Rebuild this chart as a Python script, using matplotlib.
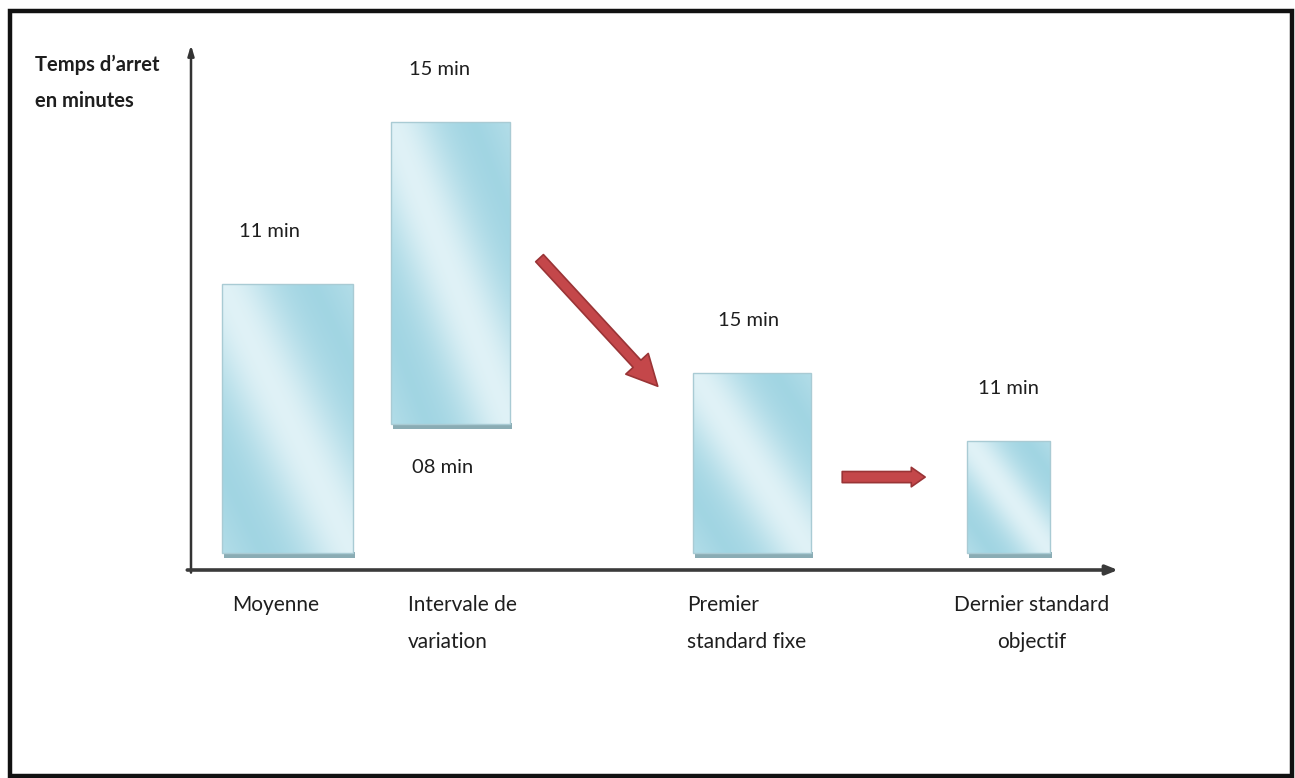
import numpy as np
import matplotlib
matplotlib.use("Agg")
import matplotlib.pyplot as plt
from matplotlib.patches import Rectangle
from matplotlib.colors import to_rgb

plt.rcParams['font.family'] = ['Lato', 'DejaVu Sans']

# --- data -------------------------------------------------------------
categories = ["Moyenne", "Intervale de\nvariation", "Premier\nstandard fixe",
              "Dernier standard\nobjectif"]
bar_low = [3.2, 27.8, 3.2, 3.2]          # bar bottoms (chart units)
bar_high = [54.5, 85.3, 37.5, 24.6]      # bar tops (chart units)
top_labels = ["11 min", "15 min", "15 min", "11 min"]
bottom_labels = [None, "08 min", None, None]
y_title = "Temps d’arret\nen minutes"

# --- layout -----------------------------------------------------------
x_pos = [1.04, 2.80, 6.05, 8.82]
widths = [1.41, 1.28, 1.27, 0.90]
label_dx = [-0.19, -0.12, -0.04, 0.0]
cat_align = ["left", "left", "left", "center"]
cat_x = [0.44, 2.34, 5.35, 9.07]

W, H = 1295, 778
fig = plt.figure(figsize=(W / 100, H / 100), dpi=100)
fig.patch.set_facecolor("white")

# outer frame
fig.patches.append(Rectangle((10 / W, 2 / H), 1282 / W, 765 / H,
                             transform=fig.transFigure, fill=False,
                             edgecolor="#111111", linewidth=3.2))

ax = fig.add_axes([191 / W, 1 - 570 / H, 927 / W, 525 / H])
ax.set_xlim(0, 10)
ax.set_ylim(0, 100)
ax.axis("off")

# axes with arrow heads
ax.annotate("", xy=(0, 1.0), xytext=(0, -0.005), xycoords="axes fraction",
            arrowprops=dict(arrowstyle="-|>,head_length=0.6,head_width=0.18",
                            color="#333333", lw=1.8, shrinkA=0, shrinkB=0),
            annotation_clip=False)
ax.annotate("", xy=(1.0, 0), xytext=(-0.004, 0), xycoords="axes fraction",
            arrowprops=dict(arrowstyle="-|>,head_length=0.7,head_width=0.28",
                            color="#3a3a3a", lw=2.6, shrinkA=0, shrinkB=0),
            annotation_clip=False)

# glassy gradient bars
light = np.array(to_rgb("#e5f4f8"))
dark = np.array(to_rgb("#9fd4e2"))
heights = [h - l for h, l in zip(bar_high, bar_low)]
bars = ax.bar(x_pos, heights, bottom=bar_low, width=widths,
              facecolor="none", edgecolor="#a9cbd4", linewidth=1.0, zorder=3)

u = np.linspace(0, 1, 200)
v = np.linspace(0, 1, 400)
U, V = np.meshgrid(u, v)
d = U + V - 1.0
t = 1 - np.exp(-(d / 0.38) ** 2)
# the far corners ease back towards a lighter tone
t = t * (1 - 0.3 * np.clip((np.abs(d) - 0.7) / 0.3, 0, 1))
t = 0.08 + 0.92 * t
img = light[None, None, :] * (1 - t[..., None]) + dark[None, None, :] * t[..., None]

for rect in bars:
    x0, y0 = rect.get_x(), rect.get_y()
    x1, y1 = x0 + rect.get_width(), y0 + rect.get_height()
    # soft shadow under the bar
    ax.add_patch(Rectangle((x0 + 0.02, y0 - 0.9), rect.get_width(), 1.1,
                           facecolor="#8aacb4", edgecolor="none", zorder=1.5))
    im = ax.imshow(img, extent=[x0, x1, y0, y1], origin="lower",
                   aspect="auto", zorder=2, interpolation="bilinear")
    im.set_clip_path(rect)

ax.set_xlim(0, 10)
ax.set_ylim(0, 100)

# value labels
for i, lab in enumerate(top_labels):
    ax.annotate(lab, xy=(x_pos[i] + label_dx[i], bar_high[i]),
                xytext=(0, 38), textcoords="offset points",
                ha="center", va="center", fontsize=14.5, color="#1e1e1e")
for i, lab in enumerate(bottom_labels):
    if lab:
        ax.annotate(lab, xy=(x_pos[i] - 0.09, bar_low[i]),
                    xytext=(0, -31), textcoords="offset points",
                    ha="center", va="center", fontsize=14.5, color="#1e1e1e")

# category labels under the x axis
for i, cat in enumerate(categories):
    for j, line in enumerate(cat.split("\n")):
        ax.text(cat_x[i], -7.9 - 7.05 * j, line, ha=cat_align[i],
                va="baseline", fontsize=15, color="#1e1e1e", clip_on=False)

# red transition arrows between stages
arrow_style = dict(fc="#c4474a", ec="#9a3436", lw=1.2, shrinkA=0, shrinkB=0,
                   mutation_scale=20)
b1, b2, b3 = 1, 2, 3
ax.annotate("", xy=(x_pos[b2] - widths[b2] / 2 - 0.38, bar_high[b2] - 2.5),
            xytext=(x_pos[b1] + widths[b1] / 2 + 0.32, bar_high[b1] - 25.9),
            arrowprops=dict(arrowstyle="simple,head_length=1.1,head_width=1.1,tail_width=0.38",
                            **arrow_style))
y_mid = bar_high[b3] - 6.9
ax.annotate("", xy=(x_pos[b3] - widths[b3] / 2 - 0.45, y_mid),
            xytext=(x_pos[b2] + widths[b2] / 2 + 0.34, y_mid),
            arrowprops=dict(arrowstyle="simple,head_length=0.5,head_width=0.7,tail_width=0.4",
                            **arrow_style))

# y-axis title
for j, line in enumerate(y_title.split("\n")):
    fig.text(35 / W, 1 - (71 + 36 * j) / H, line, ha="left", va="baseline",
             fontsize=14.5, fontweight="bold", color="#1e1e1e")

fig.savefig("out.png", dpi=100, facecolor="white")
